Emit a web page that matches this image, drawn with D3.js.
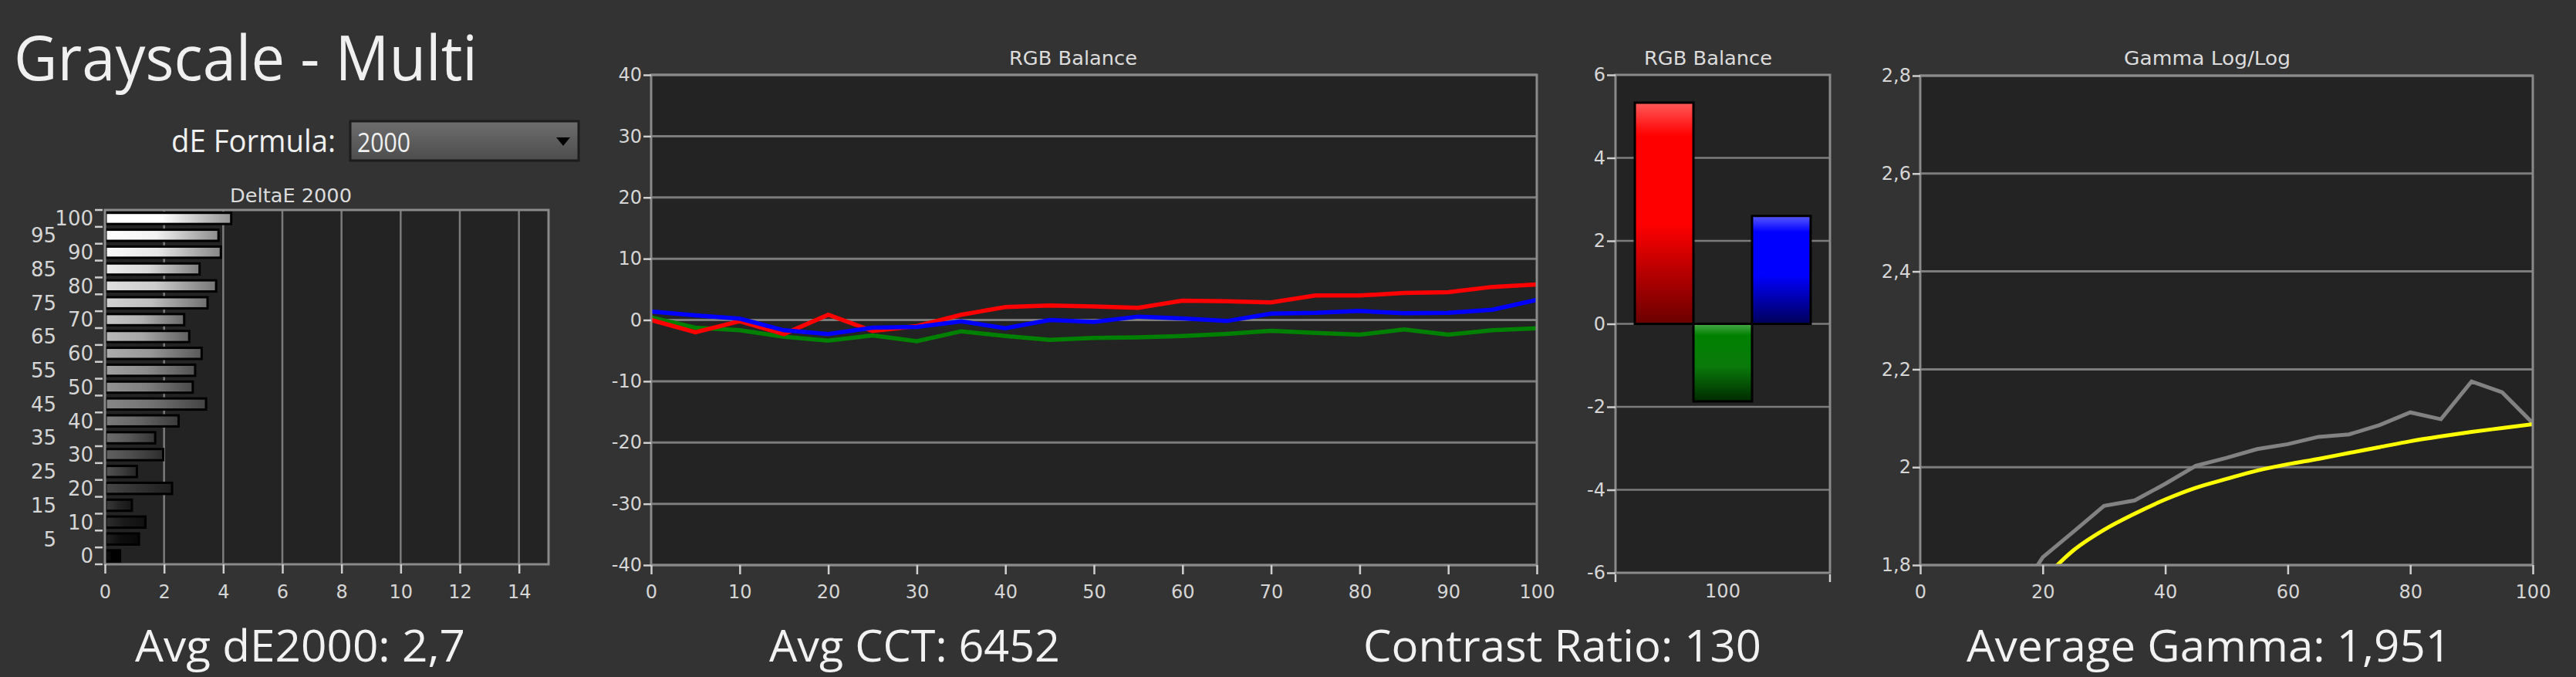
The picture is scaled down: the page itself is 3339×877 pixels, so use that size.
<!DOCTYPE html>
<html><head><meta charset="utf-8">
<script src="https://cdn.jsdelivr.net/npm/d3@7"></script>
<style>
html,body{margin:0;padding:0;background:#333333;overflow:hidden}
svg{display:block}
</style></head><body>
<svg id="c" width="3339" height="877"></svg>
<script>
// ---------------- data ----------------
const deltaECategories = [0,5,10,15,20,25,30,35,40,45,50,55,60,65,70,75,80,85,90,95,100];
const deltaEValues = [0.51,1.15,1.37,0.91,2.27,1.08,1.97,1.70,2.49,3.42,2.97,3.05,3.27,2.85,2.68,3.47,3.76,3.20,3.92,3.84,4.27];
const deltaETicks = [0,2,4,6,8,10,12,14];

const balanceX = [0,5,10,15,20,25,30,35,40,45,50,55,60,65,70,75,80,85,90,95,100];
const redBalance = [0.0,-2.0,-0.2,-2.3,0.85,-1.8,-1.0,0.85,2.1,2.35,2.2,2.0,3.15,3.07,2.86,4.0,4.0,4.4,4.54,5.4,5.8];
const greenBalance = [0.42,-1.26,-1.68,-2.74,-3.37,-2.52,-3.45,-1.85,-2.61,-3.24,-2.94,-2.82,-2.61,-2.27,-1.77,-2.1,-2.4,-1.56,-2.4,-1.68,-1.35];
const blueBalance = [1.39,0.76,0.21,-1.68,-2.3,-1.26,-1.13,-0.21,-1.35,0.0,-0.3,0.55,0.25,-0.17,1.05,1.17,1.47,1.09,1.17,1.68,3.28];
const balanceYTicks = [-40,-30,-20,-10,0,10,20,30,40];
const balanceXTicks = [0,10,20,30,40,50,60,70,80,90,100];

const barCategory = ["100"];
const barSeries = ["red","green","blue"];
const barValues = [5.33,-1.87,2.6];
const barYTicks = [-6,-4,-2,0,2,4,6];

const gammaX = [15,20,25,30,35,40,45,50,55,60,65,70,75,80,85,90,95,100];
const gammaMeasured = [1.72,1.816,1.868,1.921,1.932,1.966,2.003,2.019,2.037,2.047,2.062,2.067,2.086,2.112,2.098,2.175,2.153,2.090];
const gammaTarget = [null,1.77,1.83,1.872,1.905,1.934,1.958,1.976,1.993,2.006,2.017,2.029,2.041,2.053,2.063,2.072,2.080,2.088];
const gammaYTicks = [1.8,2.0,2.2,2.4,2.6,2.8];
const gammaXTicks = [0,20,40,60,80,100];

const summaryTexts = ["Avg dE2000: 2,7","Avg CCT: 6452","Contrast Ratio: 130","Average Gamma: 1,951"];

// ---------------- styles ----------------
const BG = "#333333", PLOT = "#232323", FRAME = "#8a8a8a", GRID = "#7c7c7c", TICK = "#cfcfcf", LABEL = "#d6d6d6";
const CHART_FONT = "'DejaVu Sans', Verdana, sans-serif";
const BIG_FONT = "'Open Sans', 'Noto Sans', sans-serif";
const plain = d => String(d);

const svg = d3.select("#c");
const defs = svg.append("defs");
svg.append("rect").attr("width",3339).attr("height",877).attr("fill",BG);

function styleAxis(g){
  g.attr("font-family", CHART_FONT).attr("font-size", 24);
  g.select(".domain").remove();
  g.selectAll(".tick line").attr("stroke", TICK).attr("stroke-width", 2.5);
  g.selectAll(".tick text").attr("fill", LABEL);
}
function chartTitle(text, cx, y, len){
  svg.append("text").attr("x",cx).attr("y",y).attr("text-anchor","middle")
    .attr("font-family",CHART_FONT).attr("font-size",25).attr("fill","#dcdcdc")
    .attr("textLength",len).attr("lengthAdjust","spacingAndGlyphs").text(text);
}
function plotBg(x0,y0,x1,y1){
  svg.append("rect").attr("x",x0).attr("y",y0).attr("width",x1-x0).attr("height",y1-y0).attr("fill",PLOT);
}
function plotFrame(x0,y0,x1,y1){
  svg.append("rect").attr("x",x0).attr("y",y0).attr("width",x1-x0).attr("height",y1-y0)
    .attr("fill","none").attr("stroke",FRAME).attr("stroke-width",3);
}

// ---------------- header ----------------
svg.append("text").attr("x",18).attr("y",104).attr("font-family",BIG_FONT).attr("font-size",80)
  .attr("fill","#f0f0f0").attr("textLength",601).attr("lengthAdjust","spacingAndGlyphs").text("Grayscale - Multi");
svg.append("text").attr("x",222).attr("y",197).attr("font-family",BIG_FONT).attr("font-size",40)
  .attr("fill","#f0f0f0").attr("textLength",213).attr("lengthAdjust","spacingAndGlyphs").text("dE Formula:");
const ddGrad = defs.append("linearGradient").attr("id","dd").attr("x1",0).attr("y1",0).attr("x2",0).attr("y2",1);
ddGrad.append("stop").attr("offset",0).attr("stop-color","#6e6e6e");
ddGrad.append("stop").attr("offset",1).attr("stop-color","#4c4c4c");
svg.append("rect").attr("x",454).attr("y",157).attr("width",296).attr("height",51)
  .attr("fill","url(#dd)").attr("stroke","#1c1c1c").attr("stroke-width",3);
svg.append("text").attr("x",463).attr("y",197).attr("font-family",BIG_FONT).attr("font-size",34)
  .attr("fill","#f0f0f0").attr("textLength",69).attr("lengthAdjust","spacingAndGlyphs").text("2000");
svg.append("path").attr("d","M721,178 L739,178 L730,189 Z").attr("fill","#000");

// ---------------- DeltaE chart ----------------
{
  const x0=136, x1=711, y0=272, y1=731;
  plotBg(x0,y0,x1,y1);
  const x = d3.scaleLinear().domain([0,15]).range([x0,x1]);
  const y = d3.scaleBand().domain(deltaECategories.slice().reverse()).range([y0,y1]).paddingInner(0.34).paddingOuter(0.17);
  svg.append("g").selectAll("line").data(deltaETicks.filter(d=>d>0)).join("line")
    .attr("x1",d=>x(d)).attr("x2",d=>x(d)).attr("y1",y0).attr("y2",y1)
    .attr("stroke",GRID).attr("stroke-width",2.5);
  deltaECategories.forEach((c,i)=>{
    const L = Math.round(255*c/100);
    const Ll = Math.min(255, L + 20);
    const g = defs.append("linearGradient").attr("id","de"+i).attr("x1",0).attr("x2",1).attr("y1",0).attr("y2",0);
    g.append("stop").attr("offset",0).attr("stop-color",d3.rgb(Ll,Ll,Ll));
    g.append("stop").attr("offset",0.45).attr("stop-color",d3.rgb(L,L,L));
    g.append("stop").attr("offset",1).attr("stop-color",d3.rgb(L*0.58,L*0.58,L*0.58));
  });
  svg.append("g").selectAll("rect").data(deltaECategories).join("rect")
    .attr("x",x(0)+1).attr("y",d=>y(d))
    .attr("width",(d,i)=>x(deltaEValues[i])-x(0)-1).attr("height",y.bandwidth())
    .attr("fill",(d,i)=>"url(#de"+i+")").attr("stroke","#000").attr("stroke-width",3);
  plotFrame(x0,y0,x1,y1);
  const step = y.step();
  const bounds = d3.range(deltaECategories.length+1).map(i=>y0 + i*step);
  svg.append("g").selectAll("line").data(bounds).join("line")
    .attr("x1",123).attr("x2",133).attr("y1",d=>d).attr("y2",d=>d)
    .attr("stroke",TICK).attr("stroke-width",2.5);
  svg.append("g").attr("font-family",CHART_FONT).attr("font-size",26).attr("fill",LABEL)
    .selectAll("text").data(deltaECategories).join("text")
    .attr("text-anchor","end")
    .attr("x",d=> d%10===0 ? 121 : 73)
    .attr("y",d=>y(d)+y.bandwidth()/2).attr("dy","0.36em").text(plain);
  const gx = svg.append("g").attr("transform",`translate(0,${y1})`)
    .call(d3.axisBottom(x).tickValues(deltaETicks).tickSize(12).tickFormat(plain));
  styleAxis(gx);
  gx.selectAll(".tick text").attr("y",27);
  chartTitle("DeltaE 2000", 377, 262, 158);
}

// ---------------- RGB Balance line chart ----------------
{
  const x0=844, x1=1992, y0=97, y1=732;
  plotBg(x0,y0,x1,y1);
  const x = d3.scaleLinear().domain([0,100]).range([x0,x1]);
  const y = d3.scaleLinear().domain([-40,40]).range([y1,y0]);
  svg.append("g").selectAll("line").data(balanceYTicks).join("line")
    .attr("x1",x0).attr("x2",x1).attr("y1",d=>y(d)).attr("y2",d=>y(d))
    .attr("stroke",GRID).attr("stroke-width",3);
  const line = d3.line().x((d,i)=>x(balanceX[i])).y(d=>y(d));
  [[greenBalance,"#008000"],[redBalance,"#ff0000"],[blueBalance,"#0000ff"]].forEach(([vals,col])=>{
    svg.append("path").datum(vals).attr("d",line).attr("fill","none").attr("stroke",col)
      .attr("stroke-width",5.5).attr("stroke-linejoin","miter");
  });
  plotFrame(x0,y0,x1,y1);
  const gy = svg.append("g").attr("transform",`translate(${x0},0)`)
    .call(d3.axisLeft(y).tickValues(balanceYTicks).tickSize(10).tickPadding(2).tickFormat(plain));
  styleAxis(gy);
  const gx = svg.append("g").attr("transform",`translate(0,${y1})`)
    .call(d3.axisBottom(x).tickValues(balanceXTicks).tickSize(12).tickFormat(plain));
  styleAxis(gx);
  gx.selectAll(".tick text").attr("y",26);
  chartTitle("RGB Balance", 1391, 84, 166);
}

// ---------------- RGB Balance bar chart ----------------
{
  const x0=2094, x1=2372, y0=97, y1=742;
  plotBg(x0,y0,x1,y1);
  const x = d3.scaleBand().domain(barCategory).range([x0,x1]);
  const xs = d3.scaleBand().domain(barSeries).range([0,x.bandwidth()]).paddingOuter(0.33).paddingInner(0);
  const y = d3.scaleLinear().domain([-6,6]).range([y1,y0]);
  svg.append("g").selectAll("line").data(barYTicks.filter(d=>d>-6&&d<6)).join("line")
    .attr("x1",x0).attr("x2",x1).attr("y1",d=>y(d)).attr("y2",d=>y(d))
    .attr("stroke",GRID).attr("stroke-width",2.5);
  const grads = {red:["#ff5a5a","#ff0000","#ff0000","#6a0000"], green:["#4aa84a","#008000","#0a7a0a","#002a00"], blue:["#5a5aff","#0000ff","#0000ff","#00005a"]};
  barSeries.forEach(s=>{
    const g = defs.append("linearGradient").attr("id","bb-"+s).attr("x1",0).attr("x2",0).attr("y1",0).attr("y2",1);
    const c = grads[s];
    g.append("stop").attr("offset",0).attr("stop-color",c[0]);
    g.append("stop").attr("offset",0.15).attr("stop-color",c[1]);
    g.append("stop").attr("offset",0.55).attr("stop-color",c[2]);
    g.append("stop").attr("offset",1).attr("stop-color",c[3]);
  });
  svg.append("g").selectAll("rect").data(barSeries).join("rect")
    .attr("x",d=>x("100")+xs(d)).attr("width",xs.bandwidth())
    .attr("y",(d,i)=>y(Math.max(0,barValues[i])))
    .attr("height",(d,i)=>Math.abs(y(barValues[i])-y(0)))
    .attr("fill",d=>"url(#bb-"+d+")").attr("stroke","#000").attr("stroke-width",3);
  plotFrame(x0,y0,x1,y1);
  const gy = svg.append("g").attr("transform",`translate(${x0},0)`)
    .call(d3.axisLeft(y).tickValues(barYTicks).tickSize(11).tickPadding(2).tickFormat(plain));
  styleAxis(gy);
  svg.append("g").selectAll("line").data([x0,x1]).join("line")
    .attr("x1",d=>d).attr("x2",d=>d).attr("y1",y1+2).attr("y2",y1+12)
    .attr("stroke",TICK).attr("stroke-width",2.5);
  svg.append("text").attr("x",x("100")+x.bandwidth()/2).attr("y",774).attr("text-anchor","middle")
    .attr("font-family",CHART_FONT).attr("font-size",24).attr("fill",LABEL).text(barCategory[0]);
  chartTitle("RGB Balance", 2214, 84, 166);
}

// ---------------- Gamma chart ----------------
{
  const x0=2489, x1=3283, y0=98, y1=732;
  plotBg(x0,y0,x1,y1);
  const x = d3.scaleLinear().domain([0,100]).range([x0,x1]);
  const y = d3.scaleLinear().domain([1.8,2.8]).range([y1,y0]);
  svg.append("g").selectAll("line").data(gammaYTicks).join("line")
    .attr("x1",x0).attr("x2",x1).attr("y1",d=>y(d)).attr("y2",d=>y(d))
    .attr("stroke",GRID).attr("stroke-width",3);
  defs.append("clipPath").attr("id","gclip").append("rect")
    .attr("x",x0).attr("y",y0).attr("width",x1-x0).attr("height",y1-y0);
  const gp = svg.append("g").attr("clip-path","url(#gclip)");
  gp.append("path").datum(gammaMeasured)
    .attr("d",d3.line().x((d,i)=>x(gammaX[i])).y(d=>y(d)))
    .attr("fill","none").attr("stroke","#828282").attr("stroke-width",5);
  gp.append("path").datum(gammaTarget)
    .attr("d",d3.line().defined(d=>d!==null).curve(d3.curveMonotoneX).x((d,i)=>x(gammaX[i])).y(d=>y(d)))
    .attr("fill","none").attr("stroke","#ffff00").attr("stroke-width",5);
  plotFrame(x0,y0,x1,y1);
  const fmt = v => String(Math.round(v*10)/10).replace(".",",");
  const gy = svg.append("g").attr("transform",`translate(${x0},0)`)
    .call(d3.axisLeft(y).tickValues(gammaYTicks).tickSize(10).tickPadding(2).tickFormat(fmt));
  styleAxis(gy);
  const gx = svg.append("g").attr("transform",`translate(0,${y1})`)
    .call(d3.axisBottom(x).tickValues(gammaXTicks).tickSize(12).tickFormat(plain));
  styleAxis(gx);
  gx.selectAll(".tick text").attr("y",26);
  chartTitle("Gamma Log/Log", 2861, 84, 216);
}

// ---------------- summary texts ----------------
const summaryPos = [[175,428],[997,377],[1767,516],[2549,628]];
svg.append("g").selectAll("text").data(summaryTexts).join("text")
  .attr("x",(d,i)=>summaryPos[i][0]).attr("y",857)
  .attr("textLength",(d,i)=>summaryPos[i][1]).attr("lengthAdjust","spacingAndGlyphs")
  .attr("font-family",BIG_FONT).attr("font-size",56).attr("fill","#f2f2f2").text(d=>d);
</script>
</body></html>
